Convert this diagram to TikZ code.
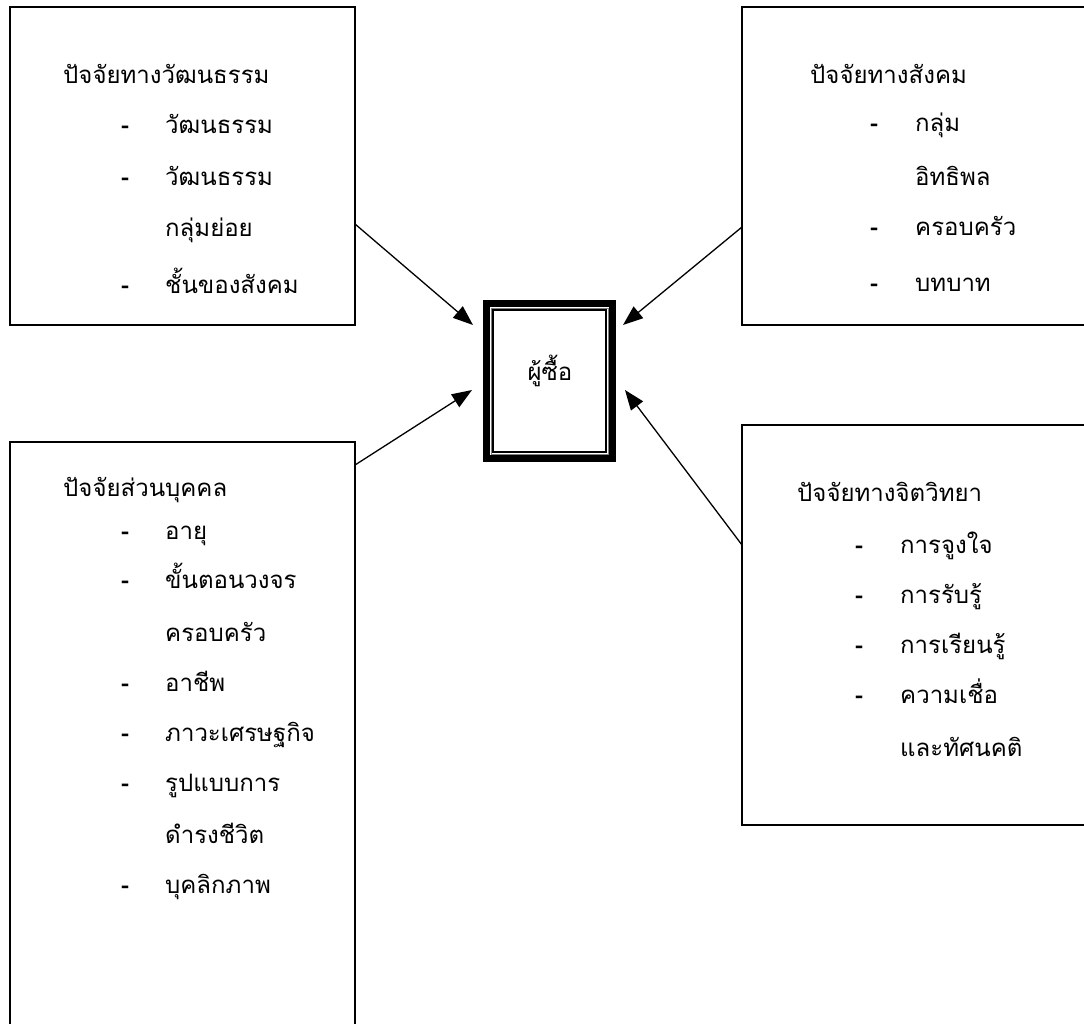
\documentclass[tikz,border=0pt]{standalone}
\usepackage{fontspec}
\newfontfamily\thaifont[Script=Thai]{Loma}
\usetikzlibrary{arrows.meta}
\tikzset{
  panel/.style={draw, line width=1.4pt, anchor=north west, inner sep=0pt, outer sep=0pt},
  ttl/.style={anchor=base west, inner sep=0pt, font=\thaifont\fontsize{24}{28}\selectfont},
  itm/.style={anchor=base west, inner sep=0pt, font=\thaifont\fontsize{24}{28}\selectfont},
  dsh/.style={anchor=base west, inner sep=0pt, font=\thaifont\bfseries\fontsize{24}{28}\selectfont},
  conn/.style={line width=1.3pt, -{Triangle[length=20pt,width=15pt]}}
}
\begin{document}
\begin{tikzpicture}[x=1pt,y=-1pt]
\useasboundingbox (0,0) rectangle (1084,1023);
\clip (0,0) rectangle (1084,1023);
% panels
\node[panel, minimum width=345pt, minimum height=318pt] (tl) at (10,7) {};
\node[panel, minimum width=360pt, minimum height=318pt] (tr) at (742,7) {};
\node[panel, minimum width=345pt, minimum height=620pt] (bl) at (10,442) {};
\node[panel, minimum width=360pt, minimum height=400pt] (br) at (742,425) {};
% centre box
\node[minimum width=133pt, minimum height=162pt, inner sep=0pt, outer sep=0pt] (buyer) at (549.5,381) {};
\draw[line width=7pt] ([shift={(3.5pt,-3.5pt)}]buyer.north west) rectangle ([shift={(-3.5pt,3.5pt)}]buyer.south east);
\draw[line width=0.8pt, gray] ([shift={(8pt,-8pt)}]buyer.north west) rectangle ([shift={(-8pt,8pt)}]buyer.south east);
\draw[line width=1.6pt] ([shift={(10pt,-10pt)}]buyer.north west) rectangle ([shift={(-10pt,10pt)}]buyer.south east);
\node[anchor=base, inner sep=0pt, font=\thaifont\fontsize{24}{28}\selectfont] (buyertxt) at (550,380) {ผู้ซื้อ};
% top-left texts
\node[ttl] (tlt) at (63,83) {ปัจจัยทางวัฒนธรรม};
\node[dsh] (tld1) at (121,133) {-};
\node[itm] (tli1) at (165,133) {วัฒนธรรม};
\node[dsh] (tld2) at (121,185) {-};
\node[itm] (tli2) at (165,185) {วัฒนธรรม};
\node[itm] (tli2b) at (165,236) {กลุ่มย่อย};
\node[dsh] (tld3) at (121,293) {-};
\node[itm] (tli3) at (165,293) {ชั้นของสังคม};
% top-right texts
\node[ttl] (trt) at (810,83) {ปัจจัยทางสังคม};
\node[dsh] (trd1) at (870,131) {-};
\node[itm] (tri1) at (915,131) {กลุ่ม};
\node[itm] (tri1b) at (915,185) {อิทธิพล};
\node[dsh] (trd2) at (870,235) {-};
\node[itm] (tri2) at (915,235) {ครอบครัว};
\node[dsh] (trd3) at (870,291) {-};
\node[itm] (tri3) at (915,291) {บทบาท};
% bottom-left texts
\node[ttl] (blt) at (63,496) {ปัจจัยส่วนบุคคล};
\node[dsh] (bld1) at (121,539) {-};
\node[itm] (bli1) at (165,539) {อายุ};
\node[dsh] (bld2) at (121,588) {-};
\node[itm] (bli2) at (165,588) {ขั้นตอนวงจร};
\node[itm] (bli2b) at (165,641) {ครอบครัว};
\node[dsh] (bld3) at (121,691) {-};
\node[itm] (bli3) at (165,691) {อาชีพ};
\node[dsh] (bld4) at (121,741) {-};
\node[itm] (bli4) at (165,741) {ภาวะเศรษฐกิจ};
\node[dsh] (bld5) at (121,791) {-};
\node[itm] (bli5) at (165,791) {รูปแบบการ};
\node[itm] (bli5b) at (165,843) {ดำรงชีวิต};
\node[dsh] (bld6) at (121,893) {-};
\node[itm] (bli6) at (165,893) {บุคลิกภาพ};
% bottom-right texts
\node[ttl] (brt) at (797,501) {ปัจจัยทางจิตวิทยา};
\node[dsh] (brd1) at (855,553) {-};
\node[itm] (bri1) at (900,553) {การจูงใจ};
\node[dsh] (brd2) at (855,603) {-};
\node[itm] (bri2) at (900,603) {การรับรู้};
\node[dsh] (brd3) at (855,653) {-};
\node[itm] (bri3) at (900,653) {การเรียนรู้};
\node[dsh] (brd4) at (855,703) {-};
\node[itm] (bri4) at (900,703) {ความเชื่อ};
\node[itm] (bri4b) at (900,756) {และทัศนคติ};
% connector ends
\coordinate (a1s) at (tl.north east |- 0,224);
\coordinate (a1e) at (473,325);
\coordinate (a2s) at (tr.north west |- 0,227);
\coordinate (a2e) at (623,325);
\coordinate (a3s) at (bl.north east |- 0,465);
\coordinate (a3e) at (472,390);
\coordinate (a4s) at (br.north west |- 0,545);
\coordinate (a4e) at (625,390);
\draw[conn] (a1s) -- (a1e);
\draw[conn] (a2s) -- (a2e);
\draw[conn] (a3s) -- (a3e);
\draw[conn] (a4s) -- (a4e);
\end{tikzpicture}
\end{document}
